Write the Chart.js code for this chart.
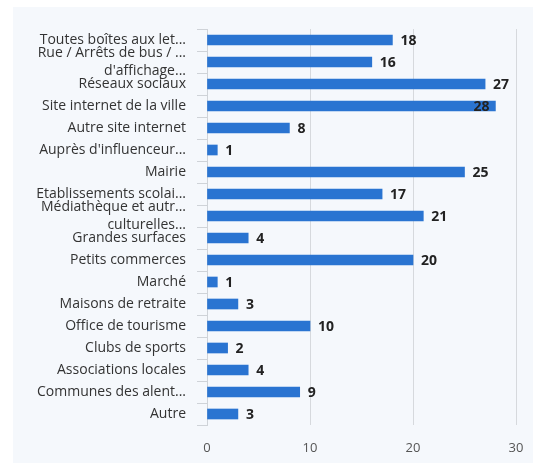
<!DOCTYPE html>
<html>
<head>
<meta charset="utf-8">
<script src="https://cdn.jsdelivr.net/npm/chart.js@4"></script>
<style>
  html, body { margin: 0; padding: 0; background: #ffffff; }
  #panel { position: absolute; left: 13px; top: 7px; right: 0; bottom: 0; background: #f5f8fc; }
  #wrap { position: absolute; left: 0; top: 0; width: 533px; height: 463px; }
</style>
</head>
<body>
<div id="panel"></div>
<div id="wrap"><canvas id="chart"></canvas></div>
<script>
const categories = [
    "Toutes boîtes aux let...",
    ["Rue / Arrêts de bus / ...", "d'affichage..."],
    "Réseaux sociaux",
    "Site internet de la ville",
    "Autre site internet",
    "Auprès d'influenceur...",
    "Mairie",
    "Etablissements scolai...",
    ["Médiathèque et autr...", "culturelles..."],
    "Grandes surfaces",
    "Petits commerces",
    "Marché",
    "Maisons de retraite",
    "Office de tourisme",
    "Clubs de sports",
    "Associations locales",
    "Communes des alent...",
    "Autre"
];
const values = [18, 16, 27, 28, 8, 1, 25, 17, 21, 4, 20, 1, 3, 10, 2, 4, 9, 3];
const xTicks = [0, 10, 20, 30];

const barColor = "#2a74d1";

// draws the value next to the end of each bar
const valueLabels = {
    id: "valueLabels",
    afterDatasetsDraw(chart) {
        const ctx = chart.ctx;
        const meta = chart.getDatasetMeta(0);
        const area = chart.chartArea;
        ctx.save();
        ctx.font = "bold 14px 'Open Sans'";
        ctx.fillStyle = "#222222";
        ctx.textBaseline = "middle";
        meta.data.forEach((bar, i) => {
            const txt = String(values[i]);
            const w = ctx.measureText(txt).width;
            let x = bar.x + 8;
            if (x + w > area.right) {
                x = bar.x - w - 6;
            }
            ctx.fillText(txt, x, bar.y + 1);
        });
        ctx.restore();
    }
};

const graph = document.querySelector("#chart");
const config_bar = {
    type: "bar",
    data: {
        labels: categories,
        datasets: [{
            data: values,
            backgroundColor: barColor,
            borderWidth: 0,
            barThickness: 10
        }]
    },
    options: {
        indexAxis: "y",
        responsive: true,
        maintainAspectRatio: false,
        animation: false,
        layout: {
            padding: { top: 29, right: 17, bottom: 8, left: 13 }
        },
        plugins: {
            legend: { display: false },
            tooltip: { enabled: false }
        },
        scales: {
            x: {
                min: 0,
                max: 30,
                afterBuildTicks: (scale) => {
                    scale.ticks = xTicks.map((v) => ({ value: v }));
                },
                afterFit: (scale) => { scale.height = 30; },
                grid: {
                    color: "#d6d9dd",
                    drawTicks: true,
                    tickLength: 13,
                    tickColor: "rgba(0,0,0,0)"
                },
                border: { display: false },
                ticks: {
                    padding: 2,
                    color: "#555555",
                    font: { family: "'Open Sans'", size: 13 }
                }
            },
            y: {
                afterFit: (scale) => { scale.width = 194; },
                grid: {
                    drawOnChartArea: false,
                    drawTicks: true,
                    tickLength: 10,
                    color: "#cfd3d8"
                },
                border: { display: true, color: "#cfd3d8" },
                ticks: {
                    autoSkip: false,
                    padding: 11,
                    color: "#333333",
                    font: { family: "'Open Sans'", size: 14, lineHeight: 1.3 }
                }
            }
        }
    },
    plugins: [valueLabels]
};

const myBarChart = new Chart(graph, config_bar);
</script>
</body>
</html>
